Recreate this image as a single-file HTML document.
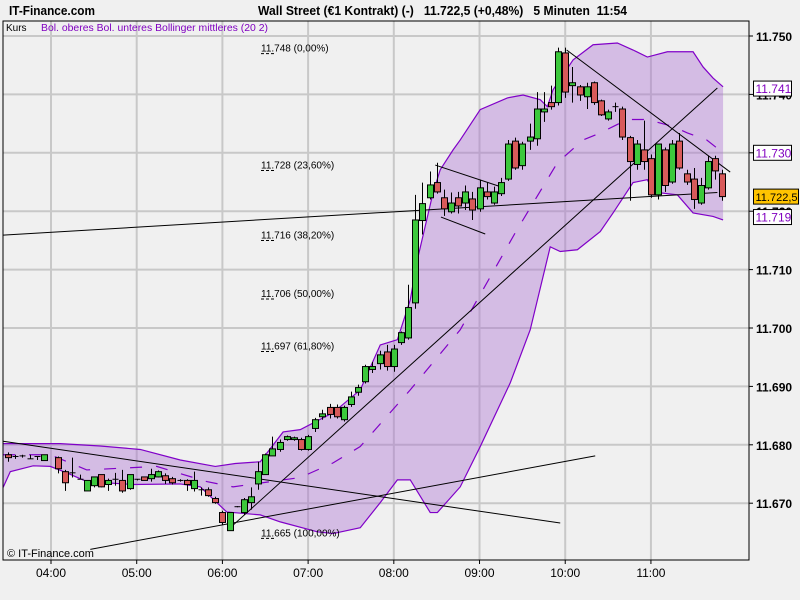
<!DOCTYPE html>
<html><head><meta charset="utf-8"><style>
body{margin:0;background:#f0f0f0;}
svg{display:block;font-family:"Liberation Sans",sans-serif;}
</style></head><body>
<svg id="chart" width="800" height="600" viewBox="0 0 800 600">
<rect x="0" y="0" width="800" height="600" fill="#f0f0f0"/>
<text x="9" y="15" font-size="12.5" font-weight="bold" textLength="86" lengthAdjust="spacingAndGlyphs">IT-Finance.com</text>
<text x="258" y="15" font-size="12.5" font-weight="bold" textLength="369" lengthAdjust="spacingAndGlyphs" xml:space="preserve">Wall Street (€1 Kontrakt) (-)   11.722,5 (+0,48%)   5 Minuten  11:54</text>
<g id="grid"></g>
<g id="band"></g>
<g id="trend"></g>
<g id="candles"></g>
<g id="fib"></g>
<rect x="3" y="21" width="746" height="539" fill="none" stroke="#000" stroke-width="1"/>
<text x="6" y="31" font-size="10">Kurs</text>
<text x="41" y="31" font-size="10" fill="#8000c0" textLength="227" lengthAdjust="spacingAndGlyphs">Bol. oberes Bol. unteres Bollinger mittleres (20 2)</text>
<text x="7" y="557" font-size="11">© IT-Finance.com</text>
<g id="yaxis"></g>
<g id="xaxis"></g>
</svg>
<script>
const slots=[-6,-5,-4,-3,-2,-1,1,2,3,4,5,6,7,8,9,10,11,12,13,14,15,16,17,18,19,20,21,22,23,24,25,26,27,28,29,30,31,32,33,34,35,36,37,38,39,40,41,42,43,44,45,46,47,48,49,50,51,52,53,54,55,56,57,58,59,60,61,62,63,64,65,66,67,68,69,70,71,72,73,74,75,76,77,78,79,80,81,82,83,84,85,86,87,88,89,90,91,92,93,94];
const opens=[11678.3,11678.0,11678.1,11677.6,11678.0,11677.3,11677.8,11675.4,11675.2,11674.1,11672.1,11673.0,11674.9,11673.2,11674.1,11673.9,11672.5,11674.1,11674.5,11674.2,11674.5,11674.7,11674.2,11673.9,11673.9,11672.5,11672.3,11672.3,11670.8,11668.4,11665.3,11669.4,11668.4,11670.1,11673.3,11674.9,11678.1,11679.2,11680.9,11680.9,11680.9,11679.2,11682.8,11684.8,11686.4,11686.4,11684.3,11686.9,11689.0,11690.8,11692.9,11693.9,11695.9,11693.4,11697.5,11698.3,11704.3,11718.4,11722.3,11724.9,11722.3,11719.9,11722.3,11721.4,11722.1,11720.4,11723.3,11721.4,11723.0,11725.5,11732.0,11727.8,11732.0,11732.4,11737.0,11738.6,11738.6,11747.1,11741.5,11741.3,11739.6,11742.0,11738.9,11735.8,11737.9,11737.5,11732.6,11728.0,11730.5,11729.0,11722.8,11730.5,11725.0,11732.0,11726.4,11725.5,11721.4,11724.0,11729.0,11726.4];
const highs=[11678.7,11678.3,11678.3,11678.3,11678.0,11678.3,11678.0,11675.7,11677.8,11674.9,11673.9,11674.5,11674.9,11674.2,11675.2,11675.7,11674.9,11674.1,11674.5,11675.9,11675.6,11675.1,11674.5,11674.1,11674.1,11675.4,11672.7,11672.7,11671.1,11668.7,11668.4,11669.5,11670.9,11672.7,11677.1,11678.5,11681.4,11680.9,11681.6,11681.4,11681.2,11681.7,11684.6,11686.0,11687.0,11686.9,11686.7,11689.1,11690.3,11693.7,11694.2,11696.1,11697.1,11697.1,11699.4,11707.4,11722.8,11724.9,11726.8,11728.3,11723.7,11723.2,11723.3,11724.4,11723.3,11725.4,11725.0,11724.2,11725.7,11732.2,11732.6,11731.9,11735.0,11740.4,11740.4,11741.5,11748.0,11748.0,11744.7,11741.6,11742.0,11742.2,11739.1,11737.4,11738.6,11737.9,11732.9,11732.2,11735.5,11729.7,11731.5,11730.9,11732.2,11733.4,11727.1,11727.4,11725.7,11729.5,11729.5,11727.1];
const lows=[11677.1,11677.6,11677.8,11677.6,11677.4,11677.3,11675.1,11672.1,11674.4,11674.1,11672.1,11672.7,11672.7,11672.1,11673.0,11671.8,11672.3,11673.9,11673.9,11673.7,11674.4,11673.3,11673.2,11673.7,11672.1,11672.0,11671.3,11671.1,11669.9,11666.3,11665.3,11669.3,11668.0,11668.9,11672.3,11674.9,11678.1,11678.8,11680.7,11680.7,11679.0,11679.0,11682.2,11684.3,11684.5,11684.5,11684.0,11686.5,11688.4,11690.5,11692.3,11692.9,11692.7,11692.5,11697.1,11698.0,11703.3,11716.0,11722.0,11723.0,11719.2,11719.6,11719.6,11720.2,11718.5,11719.9,11722.0,11721.1,11722.6,11725.2,11727.1,11727.1,11730.5,11731.2,11735.3,11737.4,11738.1,11739.4,11738.6,11738.9,11737.5,11738.2,11736.3,11735.5,11737.0,11732.2,11721.8,11727.1,11727.1,11722.3,11722.0,11723.3,11724.7,11727.1,11724.5,11720.4,11721.1,11723.7,11725.4,11721.8];
const closes=[11677.8,11678.0,11678.1,11677.6,11677.9,11678.3,11675.9,11673.5,11675.1,11674.1,11673.9,11674.5,11672.8,11673.9,11673.9,11672.1,11674.9,11674.1,11673.9,11674.9,11675.4,11673.9,11673.5,11673.8,11673.2,11673.9,11672.2,11671.3,11670.1,11666.7,11668.4,11669.4,11670.6,11671.1,11675.4,11678.3,11679.3,11680.4,11681.4,11681.2,11679.2,11681.4,11684.3,11685.3,11685.2,11684.8,11686.4,11688.2,11689.8,11693.4,11693.4,11695.4,11693.4,11696.4,11699.2,11703.5,11718.5,11721.3,11724.5,11723.3,11720.4,11721.4,11720.9,11723.3,11720.2,11724.0,11722.5,11723.3,11724.9,11731.5,11727.4,11731.5,11732.7,11737.5,11737.5,11737.9,11747.3,11740.4,11742.0,11739.9,11741.3,11738.6,11736.5,11737.0,11737.8,11732.7,11728.5,11731.5,11728.5,11722.8,11731.5,11724.4,11731.5,11727.4,11725.0,11722.0,11724.4,11728.5,11726.9,11722.5];
const upperSlots=[-6.7,1.3,6.9,12.5,18.1,23.0,25.8,29.3,32.5,34.9,39.5,43.3,46.1,48.5,50.3,51.3,53.5,54.5,56.3,57.3,60.1,63.9,66.1,68.5,69.5,70.3,73.1,75.9,79.3,81.5,83.5,86.3,89.9,91.3,92.7,94.1];
const upperVals=[11680.2,11680.2,11679.8,11679.2,11677.4,11676.3,11676.8,11677.1,11682.2,11682.6,11685.5,11689.4,11697.1,11698.0,11704.8,11711.7,11723.2,11727.1,11730.5,11732.2,11737.4,11739.4,11739.9,11739.1,11737.9,11740.8,11745.9,11748.5,11748.8,11747.6,11746.4,11747.3,11747.3,11744.7,11742.8,11741.3];
const lowerSlots=[-6.7,-5.7,-2.5,-0.1,2.2,5.0,11.5,18.1,20.9,24.6,29.3,32.1,37.3,39.5,43.3,46.1,48.5,50.3,53.1,54.1,57.3,60.1,64.3,67.1,69.9,71.3,73.7,76.9,78.7,81.5,83.5,84.3,87.7,89.9,92.7,94.1];
const lowerVals=[11672.7,11675.4,11676.4,11676.3,11675.2,11673.7,11673.2,11673.3,11672.8,11668.5,11668.0,11666.8,11665.1,11664.8,11665.8,11670.1,11674.0,11674.0,11668.4,11668.4,11672.8,11679.7,11690.6,11699.7,11713.9,11713.1,11713.4,11716.5,11719.7,11724.9,11725.4,11723.3,11722.8,11719.7,11719.1,11718.5];
const midSlots=[-6.7,-0.1,5.0,14.8,21.8,25.5,34.9,39.5,43.3,50.3,57.3,65.0,70.9,74.5,76.9,80.7,83.5,87.1,89.1,91.8,94.1];
const midVals=[11678.3,11678.3,11675.7,11676.3,11673.7,11672.8,11674.4,11676.9,11679.7,11689.4,11699.7,11716.3,11728.3,11732.2,11733.4,11735.7,11735.7,11734.5,11733.4,11732.2,11730.0];
const yTicks=[11750,11740,11730,11720,11710,11700,11690,11680,11670];
const yTickLabels=["11.750","11.740","11.730","11.720","11.710","11.700","11.690","11.680","11.670"];
const xTickSlots=[0,12,24,36,48,60,72,84];
const xTickLabels=["04:00","05:00","06:00","07:00","08:00","09:00","10:00","11:00"];
const fibVals=[11748,11728,11716,11706,11697,11665];
const fibLabels=["11.748 (0,00%)","11.728 (23,60%)","11.716 (38,20%)","11.706 (50,00%)","11.697 (61,80%)","11.665 (100,00%)"];
const trendFromSlot=[-6.7,-6.7,5.5,25.0,72.2,53.8,54.6];
const trendFromVal=[11715.9,11680.6,11662.1,11665.7,11747.6,11727.9,11719.0];
const trendToSlot=[93.3,71.3,76.2,93.3,95.1,62.7,60.8];
const trendToVal=[11723.2,11666.6,11678.1,11741.1,11726.7,11724.3,11716.1];
const markers=[{v:11741,t:"11.741",c:"#8000c0",bg:"#fff"},{v:11730,t:"11.730",c:"#8000c0",bg:"#fff"},{v:11722.5,t:"11.722,5",c:"#000",bg:"#ffc400"},{v:11719,t:"11.719",c:"#8000c0",bg:"#fff"}];

const NS="http://www.w3.org/2000/svg";
const X=s=>51+s*7.142;
const Y=p=>36+(11750-p)*5.84;
function mk(tag,attrs,parent){const e=document.createElementNS(NS,tag);for(const k in attrs)e.setAttribute(k,attrs[k]);parent.appendChild(e);return e;}
const grid=document.getElementById('grid');
yTicks.forEach((v,i)=>{
  const l=mk('line',{x1:3,x2:749,y1:Y(v),y2:Y(v),stroke:'#c8c8c8','stroke-width':2},grid);
  
  
});
xTickSlots.forEach((s,i)=>{
  const l=mk('line',{x1:X(s),x2:X(s),y1:21,y2:560,stroke:'#c8c8c8','stroke-width':2},grid);
  
  
});
const band=document.getElementById('band');
let pts=upperSlots.map((s,i)=>X(s)+','+Y(upperVals[i]));
let lpts=lowerSlots.map((s,i)=>X(s)+','+Y(lowerVals[i])).reverse();
const poly=mk('polygon',{points:pts.concat(lpts).join(' '),fill:'rgba(170,110,210,0.4)',stroke:'none'},band);


const up=mk('polyline',{points:pts.join(' '),fill:'none',stroke:'#8000c8','stroke-width':1.2},band);


const lo=mk('polyline',{points:lowerSlots.map((s,i)=>X(s)+','+Y(lowerVals[i])).join(' '),fill:'none',stroke:'#8000c8','stroke-width':1.2},band);


const mid=mk('polyline',{points:midSlots.map((s,i)=>X(s)+','+Y(midVals[i])).join(' '),fill:'none',stroke:'#8000c8','stroke-width':1.2,'stroke-dasharray':'12,14'},band);


const trend=document.getElementById('trend');
trendFromSlot.forEach((s,i)=>{
  const l=mk('line',{x1:X(s),y1:Y(trendFromVal[i]),x2:X(trendToSlot[i]),y2:Y(trendToVal[i]),stroke:'#000','stroke-width':1},trend);
  
  
});
const cg=document.getElementById('candles');
slots.forEach((s,i)=>{
  const x=Math.round(X(s))+0.5;
  const w=mk('line',{x1:x,x2:x,y1:Y(highs[i]),y2:Y(lows[i]),stroke:'#000','stroke-width':1},cg);
  
  
  const o=opens[i],c=closes[i];
  const top=Y(Math.max(o,c)),bot=Y(Math.min(o,c));
  const h=bot-top;
  if(h<1.5){
    const d=mk('line',{x1:x-3,x2:x+3,y1:top,y2:top,stroke:'#000','stroke-width':1},cg);
    
    
  }else{
    const r=mk('rect',{x:x-3,y:top,width:6,height:h,fill:c>=o?'#3cc83c':'#d85a5a',stroke:'#000','stroke-width':1},cg);
    
    
  }
});
const fib=document.getElementById('fib');
fibVals.forEach((v,i)=>{
  const t=mk('text',{x:261,y:Y(v)+4,'font-size':10},fib);
  t.textContent=fibLabels[i];
  
  
  const u=mk('line',{x1:261,x2:276,y1:Y(v)+6,y2:Y(v)+6,stroke:'#000','stroke-width':1,'stroke-dasharray':'3,2'},fib);
  
  
});
const ya=document.getElementById('yaxis');
yTicks.forEach((v,i)=>{
  const l=mk('line',{x1:749,x2:753,y1:Y(v),y2:Y(v),stroke:'#000'},ya);
  
  
  const t=mk('text',{x:756,y:Y(v)+5,'font-size':12,'font-weight':'bold'},ya);
  t.textContent=yTickLabels[i];
  
  
});
markers.forEach(m=>{
  const yy=Y(m.v);
  const r=mk('rect',{x:753.5,y:yy-7.5,width:m.t.length>6?45:38,height:15,fill:m.bg,stroke:'#000'},ya);
  
  
  const t=mk('text',{x:755.5,y:yy+4.5,'font-size':m.t.length>6?11:12,fill:m.c},ya);
  t.textContent=m.t;
  
  
});
const xa=document.getElementById('xaxis');
xTickSlots.forEach((s,i)=>{
  const l=mk('line',{x1:X(s),x2:X(s),y1:560,y2:564,stroke:'#000'},xa);
  
  
  const t=mk('text',{x:X(s),y:577,'font-size':12,'text-anchor':'middle'},xa);
  t.textContent=xTickLabels[i];
  
  
});
</script>
</body></html>
